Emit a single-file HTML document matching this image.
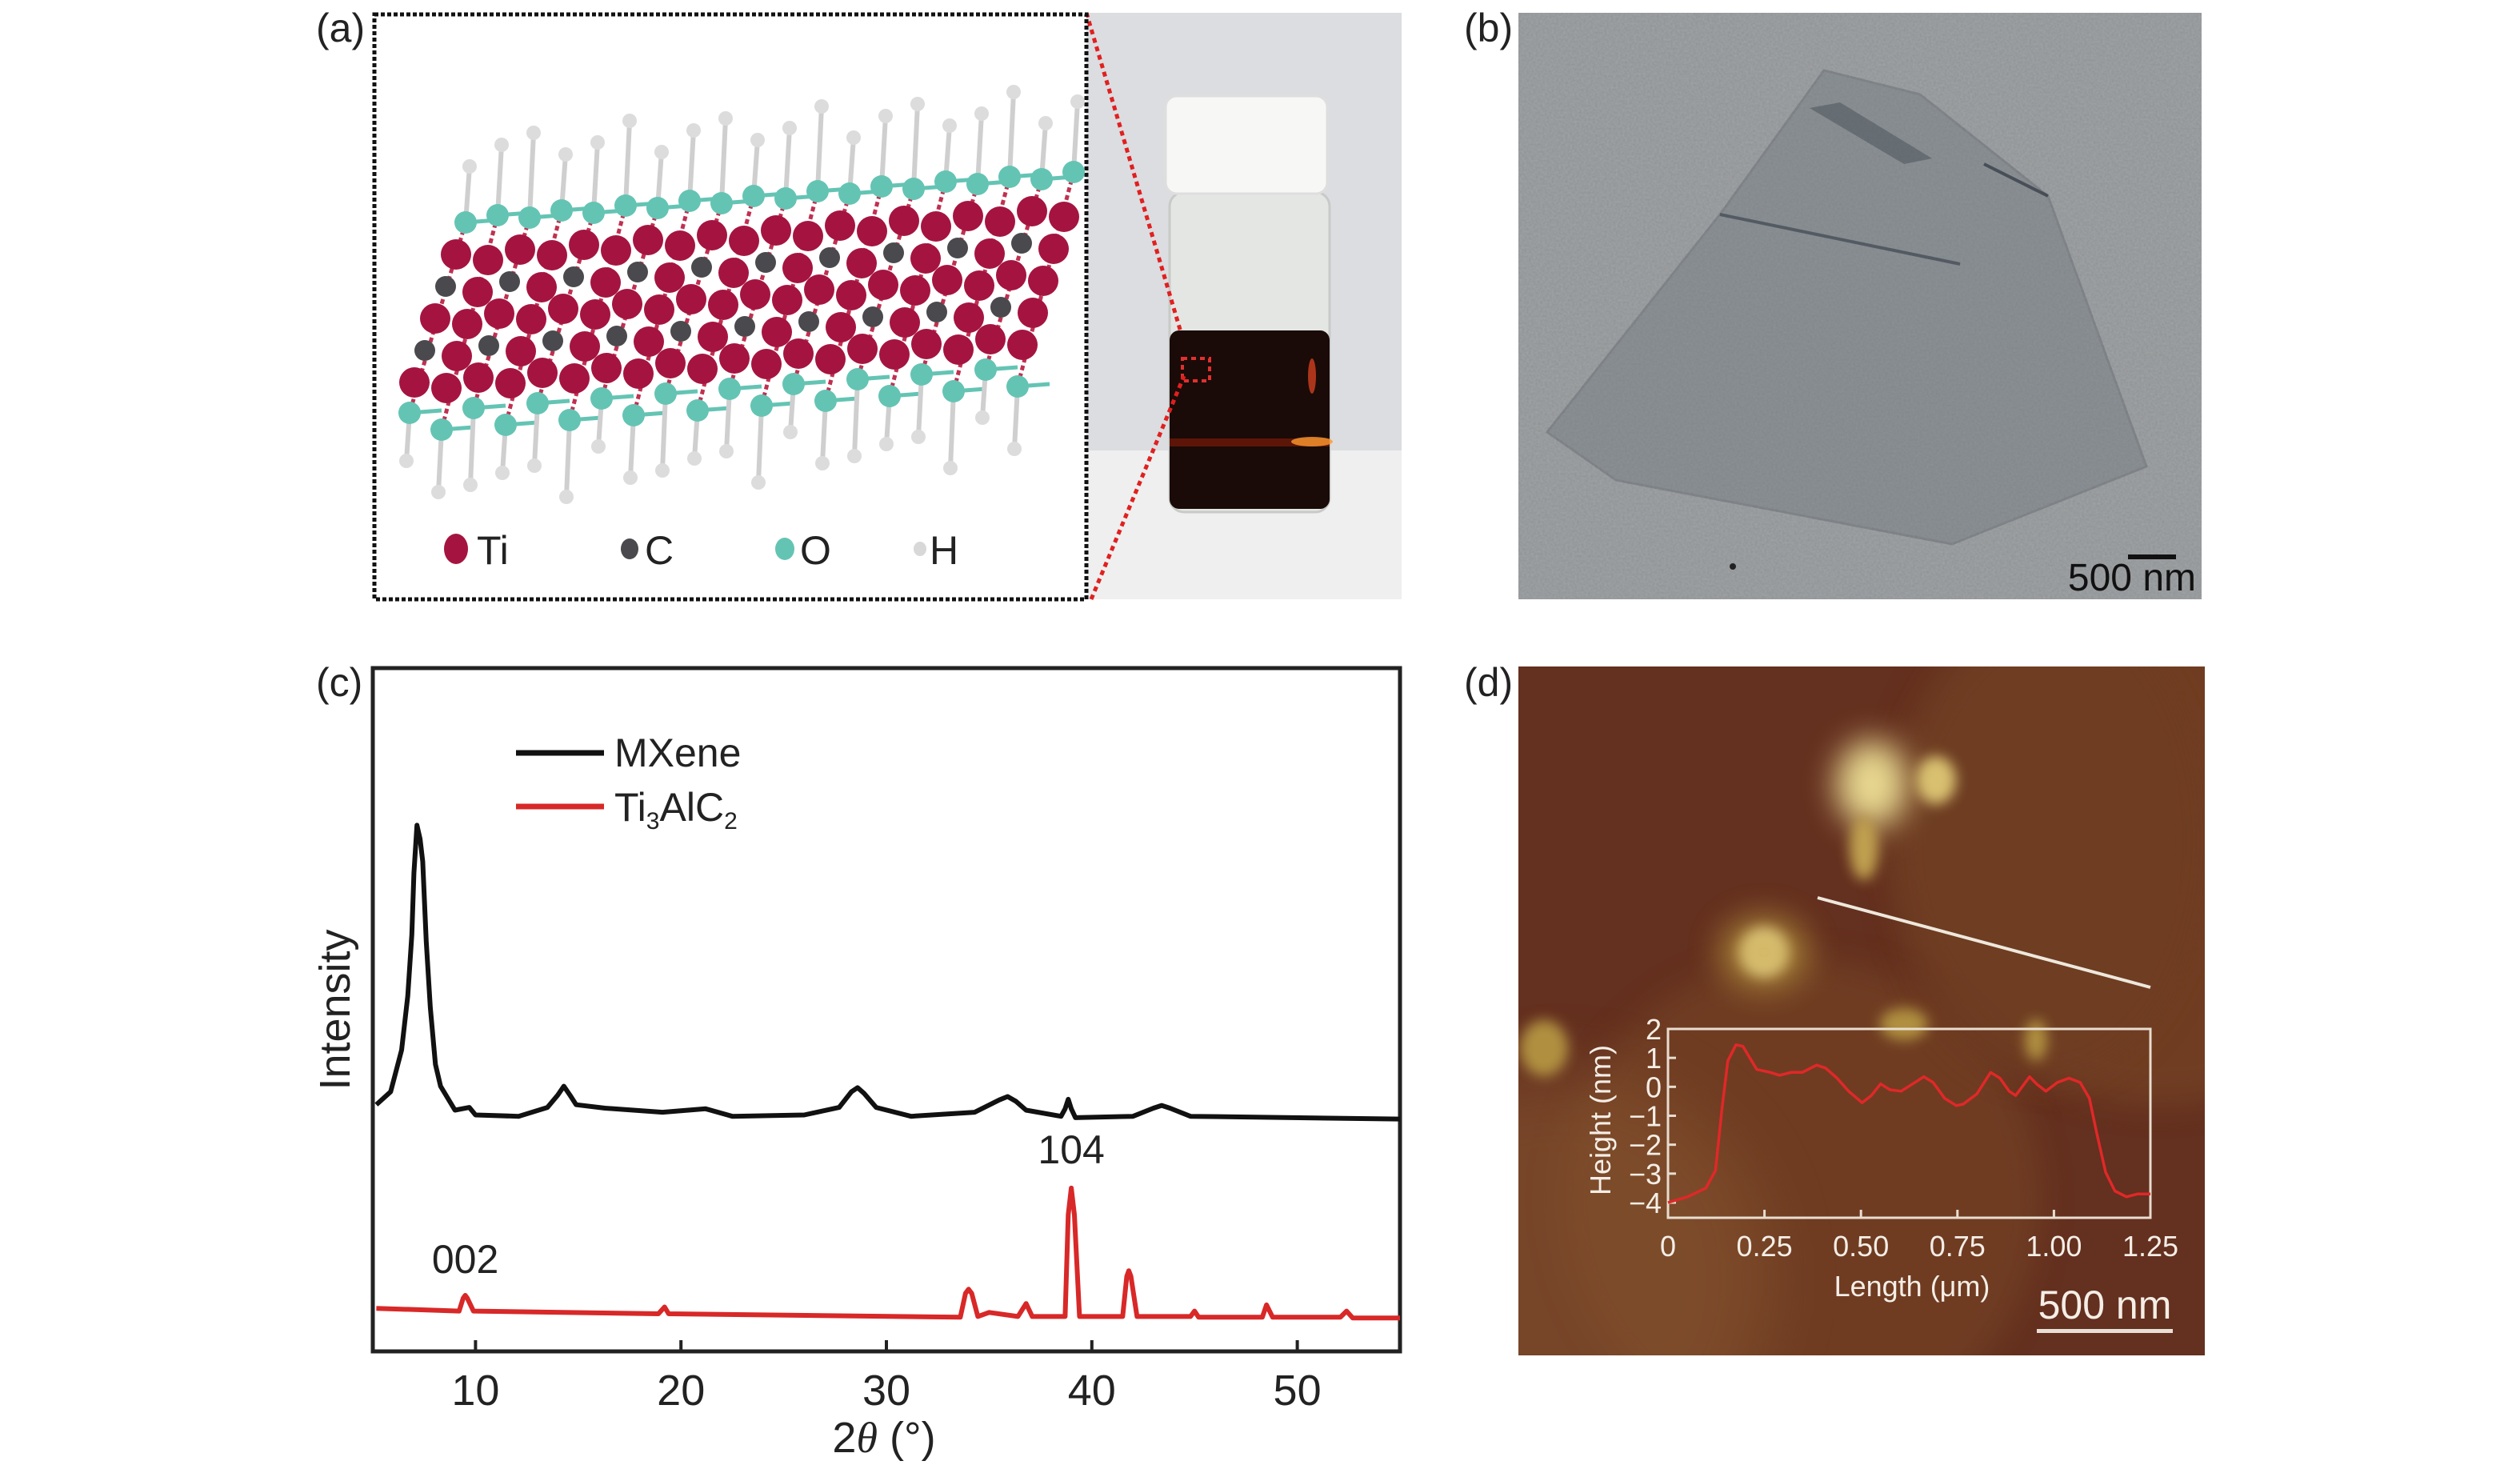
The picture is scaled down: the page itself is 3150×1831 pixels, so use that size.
<!DOCTYPE html>
<html><head><meta charset="utf-8">
<style>
html,body{margin:0;padding:0;background:#fff;}
svg{display:block;}
text{font-family:"Liberation Sans",sans-serif;}
</style></head>
<body>
<svg id="fig" width="3150" height="1831" viewBox="0 0 3150 1831" xmlns="http://www.w3.org/2000/svg">
<defs>
  <filter id="noiseB" x="0" y="0" width="100%" height="100%">
    <feTurbulence type="fractalNoise" baseFrequency="0.35" numOctaves="2" seed="3"/>
    <feColorMatrix type="matrix" values="0 0 0 0 0.45  0 0 0 0 0.47  0 0 0 0 0.48  0 0 0 0.5 0"/>
  </filter>
  <filter id="blur8" x="-100%" y="-100%" width="300%" height="300%"><feGaussianBlur stdDeviation="8"/></filter>
  <filter id="blur20" x="-100%" y="-100%" width="300%" height="300%"><feGaussianBlur stdDeviation="20"/></filter>
  <filter id="blur40" x="-100%" y="-100%" width="300%" height="300%"><feGaussianBlur stdDeviation="40"/></filter>
  <clipPath id="clipD"><rect x="1898" y="833" width="858" height="861"/></clipPath>
  <clipPath id="clipB"><rect x="1898" y="16" width="854" height="733"/></clipPath>
  <clipPath id="clipC"><rect x="466" y="835" width="1284" height="854"/></clipPath>
  <clipPath id="clipA"><rect x="470" y="20" width="886" height="727"/></clipPath>
</defs>

<!-- ============ Panel (a) ============ -->
<g>
  <text x="395" y="52" font-size="50" fill="#222">(a)</text>
  <rect x="1358" y="16" width="394" height="733" fill="#dcdde0"/>
  <rect x="1358" y="563" width="394" height="186" fill="#efefef"/>
  <g>
    <rect x="1462" y="240" width="200" height="400" rx="18" fill="#e4e6e4" stroke="#c8cac8" stroke-width="3"/>
    <rect x="1462" y="413" width="200" height="223" rx="12" fill="#1a0b08"/>
    <rect x="1462" y="548" width="200" height="10" fill="#7a1a08" opacity="0.7"/>
    <ellipse cx="1640" cy="552" rx="26" ry="6" fill="#ff9a30" opacity="0.8"/>
    <ellipse cx="1640" cy="470" rx="5" ry="22" fill="#d04020" opacity="0.8"/>
    <rect x="1457" y="120" width="202" height="122" rx="14" fill="#f7f7f5" stroke="#dedede" stroke-width="3"/>
    <rect x="1478" y="448" width="34" height="28" fill="none" stroke="#e03030" stroke-width="4" stroke-dasharray="6 5"/>
  </g>
  <line x1="1358" y1="16" x2="1476" y2="415" stroke="#e02020" stroke-width="5" stroke-dasharray="6 5"/>
  <line x1="1364" y1="749" x2="1480" y2="470" stroke="#e02020" stroke-width="5" stroke-dasharray="6 5"/>
  <rect x="468" y="18" width="890" height="731" fill="#fff" stroke="#111" stroke-width="5" stroke-dasharray="5 3"/>
  <g id="crystal" clip-path="url(#clipA)"></g>
  <g>
    <ellipse cx="570" cy="686" rx="15" ry="19" fill="#a51440"/>
    <text x="596" y="705" font-size="50" fill="#222">Ti</text>
    <ellipse cx="787" cy="686" rx="11" ry="13" fill="#4a4a4e"/>
    <text x="806" y="705" font-size="50" fill="#222">C</text>
    <ellipse cx="981" cy="686" rx="12" ry="14" fill="#64c4b4"/>
    <text x="1000" y="705" font-size="50" fill="#222">O</text>
    <ellipse cx="1150" cy="686" rx="8" ry="9" fill="#d8d8d8"/>
    <text x="1162" y="705" font-size="50" fill="#222">H</text>
  </g>
</g>

<!-- ============ Panel (b) ============ -->
<g>
  <text x="1830" y="52" font-size="50" fill="#222">(b)</text>
  <g clip-path="url(#clipB)">
    <rect x="1898" y="16" width="854" height="733" fill="#8f9294"/>
    <rect x="1898" y="16" width="854" height="733" filter="url(#noiseB)"/>
    <polygon points="2280,88 2400,118 2560,245 2683,583 2440,680 2020,600 1934,540 2150,268" fill="#6e767e" opacity="0.4" stroke="#5a6068" stroke-width="3"/>
    <polygon points="2262,135 2300,128 2415,198 2380,205" fill="#3e4650" opacity="0.45"/>
    <line x1="2150" y1="268" x2="2450" y2="330" stroke="#3e4650" stroke-width="4" opacity="0.7"/>
    <line x1="2480" y1="205" x2="2560" y2="245" stroke="#2e3640" stroke-width="4" opacity="0.7"/>
    <circle cx="2166" cy="708" r="4" fill="#222"/>
  </g>
  <rect x="2660" y="693" width="60" height="6" fill="#111"/>
  <text x="2745" y="738" font-size="48" fill="#111" text-anchor="end">500 nm</text>
</g>

<!-- ============ Panel (c) XRD chart ============ -->
<g>
  <text x="395" y="870" font-size="50" fill="#222">(c)</text>
  <g id="chartC">
    <text x="1105" y="1815" font-size="54" text-anchor="middle" fill="#222">2<tspan font-style="italic" font-family="Liberation Serif">θ</tspan> (°)</text>
    <g>
      <line x1="645" x2="755" y1="941" y2="941" stroke="#111" stroke-width="7"/>
      <text x="768" y="958" font-size="50" fill="#222">MXene</text>
      <line x1="645" x2="755" y1="1008" y2="1008" stroke="#d82828" stroke-width="7"/>
      <text x="768" y="1026" font-size="50" fill="#222">Ti<tspan font-size="30" dy="10">3</tspan><tspan dy="-10">AlC</tspan><tspan font-size="30" dy="10">2</tspan></text>
    </g>
  </g>
</g>

<!-- ============ Panel (d) AFM ============ -->
<g>
  <text x="1830" y="870" font-size="50" fill="#222">(d)</text>
  <g clip-path="url(#clipD)">
    <rect x="1898" y="833" width="858" height="861" fill="#64301f"/>
    <circle cx="2700" cy="1050" r="330" fill="#7a4a28" opacity="0.55" filter="url(#blur20)"/>
    <circle cx="2250" cy="1500" r="300" fill="#7a4a28" opacity="0.5" filter="url(#blur20)"/>
    <circle cx="1950" cy="1600" r="260" fill="#8a5a30" opacity="0.5" filter="url(#blur40)"/>
    <ellipse cx="2560" cy="1050" rx="200" ry="300" fill="#6e3e24" opacity="0.5" filter="url(#blur20)"/>
    <ellipse cx="2340" cy="980" rx="45" ry="55" fill="#e8d890" filter="url(#blur20)"/>
    <ellipse cx="2420" cy="975" rx="25" ry="30" fill="#d8c070" filter="url(#blur8)"/>
    <ellipse cx="2330" cy="1060" rx="18" ry="40" fill="#c0a050" filter="url(#blur8)"/>
    <ellipse cx="2205" cy="1190" rx="30" ry="30" fill="#fff0c0" filter="url(#blur8)"/>
    <ellipse cx="2205" cy="1190" rx="55" ry="45" fill="#c0a040" opacity="0.7" filter="url(#blur20)"/>
    <ellipse cx="2380" cy="1280" rx="30" ry="20" fill="#b09040" filter="url(#blur8)"/>
    <ellipse cx="1930" cy="1310" rx="30" ry="35" fill="#b09040" filter="url(#blur8)"/>
    <ellipse cx="2545" cy="1300" rx="14" ry="26" fill="#b09040" filter="url(#blur8)"/>
  </g>
  <line x1="2272" y1="1122" x2="2688" y2="1234" stroke="#eee8dc" stroke-width="4"/>
  <g id="chartD"></g>
  <rect x="2546" y="1661" width="170" height="5" fill="#e8e0d6"/>
  <text x="2631" y="1648" font-size="50" fill="#f4eee6" text-anchor="middle">500 nm</text>
</g>

<script>
// ---------- XRD data (panel c) ----------
const mxeneAngle = [5.17,5.87,6.4,6.7,6.9,7.0,7.15,7.3,7.43,7.6,7.8,8.05,8.3,9.0,9.7,10.0,12.1,13.5,14.0,14.3,14.6,14.9,16.3,19.1,21.2,22.5,26.0,27.7,28.3,28.6,28.9,29.5,31.2,34.3,35.5,35.9,36.3,36.8,38.5,38.7,38.85,39.0,39.2,42.0,43.0,43.4,43.8,44.8,55];
const mxeneIntensity = [36.1,38.0,44.1,52,61,70,77,75,71.7,60,50.3,42,38.8,35.3,35.7,34.6,34.4,35.7,37.5,38.8,37.5,36.1,35.6,35.0,35.5,34.4,34.6,35.7,38.0,38.6,37.8,35.7,34.4,35.0,36.8,37.3,36.6,35.3,34.4,35.5,36.9,35.5,34.2,34.4,35.6,36.0,35.6,34.4,34.0];
const ti3alc2Angle = [5.17,9.2,9.4,9.5,9.6,9.9,18.9,19.2,19.4,33.6,33.85,34.0,34.15,34.45,35.0,36.4,36.8,37.1,38.7,38.85,39.0,39.15,39.4,41.5,41.7,41.8,41.9,42.2,44.8,45.0,45.2,48.3,48.5,48.8,52.1,52.4,52.7,55];
const ti3alc2Intensity = [6.3,5.9,7.8,8.2,7.8,5.9,5.5,6.5,5.5,5.0,8.5,9.1,8.5,5.1,5.7,5.1,7.0,5.1,5.1,20,23.9,20,5.1,5.1,11,11.8,11,5.1,5.1,5.9,5.0,5.0,6.8,5.0,5.0,5.9,4.9,4.9];
const xTicks = [10,20,30,40,50];
const xTickLabels = ["10","20","30","40","50"];
const peakLabels = ["002","104"];
const peakAngles = [9.5,39.0];
const peakLabelIntensity = [11.5,27.5];

// ---------- AFM profile data (panel d) ----------
const profileLength = [0,0.051,0.098,0.123,0.140,0.155,0.176,0.194,0.230,0.265,0.289,0.319,0.348,0.385,0.408,0.438,0.468,0.503,0.527,0.551,0.575,0.604,0.634,0.663,0.687,0.717,0.747,0.765,0.800,0.836,0.860,0.884,0.901,0.937,0.955,0.979,1.009,1.039,1.068,1.092,1.110,1.134,1.158,1.188,1.217,1.250];
const profileHeight = [-4.0,-3.8,-3.5,-2.9,-0.75,0.9,1.45,1.4,0.6,0.5,0.4,0.5,0.5,0.75,0.65,0.3,-0.15,-0.55,-0.3,0.1,-0.1,-0.15,0.1,0.35,0.15,-0.4,-0.65,-0.6,-0.25,0.5,0.3,-0.15,-0.3,0.35,0.1,-0.15,0.15,0.3,0.15,-0.4,-1.55,-2.95,-3.6,-3.8,-3.7,-3.7];
const insetXTicks = [0,0.25,0.5,0.75,1.0,1.25];
const insetXLabels = ["0","0.25","0.50","0.75","1.00","1.25"];
const insetYTicks = [2,1,0,-1,-2,-3,-4];
const insetYLabels = ["2","1","0","\u22121","\u22122","\u22123","\u22124"];

const NS = "http://www.w3.org/2000/svg";
function mk(tag, attrs, parent){
  const e = document.createElementNS(NS, tag);
  for (const k in attrs) e.setAttribute(k, attrs[k]);
  parent.appendChild(e);
  return e;
}

// ---------- Chart C ----------
(function(){
  const g = document.getElementById('chartC');
  const L=466, R=1750, T=835, B=1689;
  const xs = v => L + (v-5)/(55-5)*(R-L);
  const ys = v => B - v/100*(B-T);
  const frame = mk('rect',{x:L,y:T,width:R-L,height:B-T,fill:'none',stroke:'#222','stroke-width':5},g);
  
  
  xTicks.forEach((t,i)=>{
    const tk = mk('line',{x1:xs(t),x2:xs(t),y1:B,y2:B-14,stroke:'#222','stroke-width':4},g);
    
    
    const lb = mk('text',{x:xs(t),y:1756,'font-size':54,'text-anchor':'middle',fill:'#222'},g);
    lb.textContent = xTickLabels[i];
    
    
  });
  const yt = mk('text',{x:0,y:0,'font-size':54,'text-anchor':'middle',fill:'#222',transform:'translate(437,1262) rotate(-90)'},g);
  yt.textContent = 'Intensity';
  
  
  const cg = mk('g',{'clip-path':'url(#clipC)'},g);
  function line(ax, iy, color, name){
    const d = ax.map((a,i)=>(i?'L':'M')+xs(a).toFixed(1)+','+ys(iy[i]).toFixed(1)).join(' ');
    const p = mk('path',{d:d,fill:'none',stroke:color,'stroke-width':6,'stroke-linejoin':'round'},cg);
    
    
  }
  line(mxeneAngle, mxeneIntensity, '#111', 'mxene-series');
  line(ti3alc2Angle, ti3alc2Intensity, '#d82828', 'ti3alc2-series');
  peakLabels.forEach((s,i)=>{
    const t = mk('text',{x:xs(peakAngles[i]),y:ys(peakLabelIntensity[i]),'font-size':50,'text-anchor':'middle',fill:'#222'},g);
    t.textContent = s;
    
    
  });
})();

// ---------- Chart D inset ----------
(function(){
  const g = document.getElementById('chartD');
  const L=2085, R=2688, T=1286, B=1522;
  const xs = v => L + v/1.25*(R-L);
  const ys = v => 1286 + (2-v)/6*(1503-1286);
  const fr = mk('rect',{x:L,y:T,width:R-L,height:B-T,fill:'none',stroke:'#e8ddd0','stroke-width':3},g);
  
  
  insetXTicks.forEach((t,i)=>{
    const tk = mk('line',{x1:xs(t),x2:xs(t),y1:B,y2:B-10,stroke:'#e8ddd0','stroke-width':3},g);
    
    
    const lb = mk('text',{x:xs(t),y:1570,'font-size':36,'text-anchor':'middle',fill:'#f4eee6'},g);
    lb.textContent = insetXLabels[i];
    
    
  });
  insetYTicks.forEach((t,i)=>{
    const tk = mk('line',{x1:L,x2:L+10,y1:ys(t),y2:ys(t),stroke:'#e8ddd0','stroke-width':3},g);
    
    
    const lb = mk('text',{x:2077,y:ys(t)+13,'font-size':36,'text-anchor':'end',fill:'#f4eee6'},g);
    lb.textContent = insetYLabels[i];
    
    
  });
  const xt = mk('text',{x:2390,y:1620,'font-size':36,'text-anchor':'middle',fill:'#f4eee6'},g);
  xt.textContent='Length (μm)';
  
  
  const yt = mk('text',{x:0,y:0,'font-size':36,'text-anchor':'middle',fill:'#f4eee6',transform:'translate(2013,1400) rotate(-90)'},g);
  yt.textContent='Height (nm)';
  
  
  const d = profileLength.map((v,i)=>(i?'L':'M')+xs(v).toFixed(1)+','+ys(profileHeight[i]).toFixed(1)).join(' ');
  const p = mk('path',{d:d,fill:'none',stroke:'#e02828','stroke-width':3.5,'stroke-linejoin':'round'},g);
  
  
})();

// ---------- Crystal illustration (decorative) ----------
(function(){
  const g = document.getElementById('crystal');
  const bonds = mk('g',{},g), atoms = mk('g',{},g);
  const ox=570, oy=318, ax=40, ay=-3, bx=-13, by=40;
  const hTop = [], hBot = [];
  for(let a=0;a<20;a++){
    const tx = ox + a*ax, ty = oy + a*ay + (a%2)*10;
    const oxT = tx + 12, oyT = ty - 40 - (a%2)*16;
    const hT = 70 + (a%3)*18;
    mk('line',{x1:oxT,y1:oyT,x2:oxT+5,y2:oyT-hT,stroke:'#cfcfcf','stroke-width':6},bonds);
    hTop.push([oxT+5,oyT-hT]);
    const bxx = tx + 4*bx - 6, byy = ty + 4*by + 38 + (a%2)*14;
    const hB = 60 + (a%3)*18;
    mk('line',{x1:bxx,y1:byy,x2:bxx-4,y2:byy+hB,stroke:'#cfcfcf','stroke-width':6},bonds);
    hBot.push([bxx-4,byy+hB]);
    mk('line',{x1:oxT,y1:oyT,x2:bxx,y2:byy,stroke:'#c03050','stroke-width':5,'stroke-dasharray':'6 4'},bonds);
    mk('line',{x1:oxT,y1:oyT,x2:oxT+ax,y2:oyT+ay,stroke:'#64c4b4','stroke-width':5},bonds);
    mk('line',{x1:bxx,y1:byy,x2:bxx+ax,y2:byy+ay,stroke:'#64c4b4','stroke-width':5},bonds);
    for(let b=0;b<5;b++){
      const x = tx + b*bx, y = ty + b*by;
      const isC = (b===1||b===3) && a%2===0;
      mk('circle',{cx:x,cy:y,r:isC?13:19,fill:isC?'#4a4a4e':'#a51440'},atoms);
    }
    mk('circle',{cx:oxT,cy:oyT,r:14,fill:'#64c4b4'},atoms);
    mk('circle',{cx:bxx,cy:byy,r:14,fill:'#64c4b4'},atoms);
  }
  hTop.concat(hBot).forEach(p=>mk('circle',{cx:p[0],cy:p[1],r:9,fill:'#dcdcdc'},atoms));
})();
</script>
</svg>
</body></html>
